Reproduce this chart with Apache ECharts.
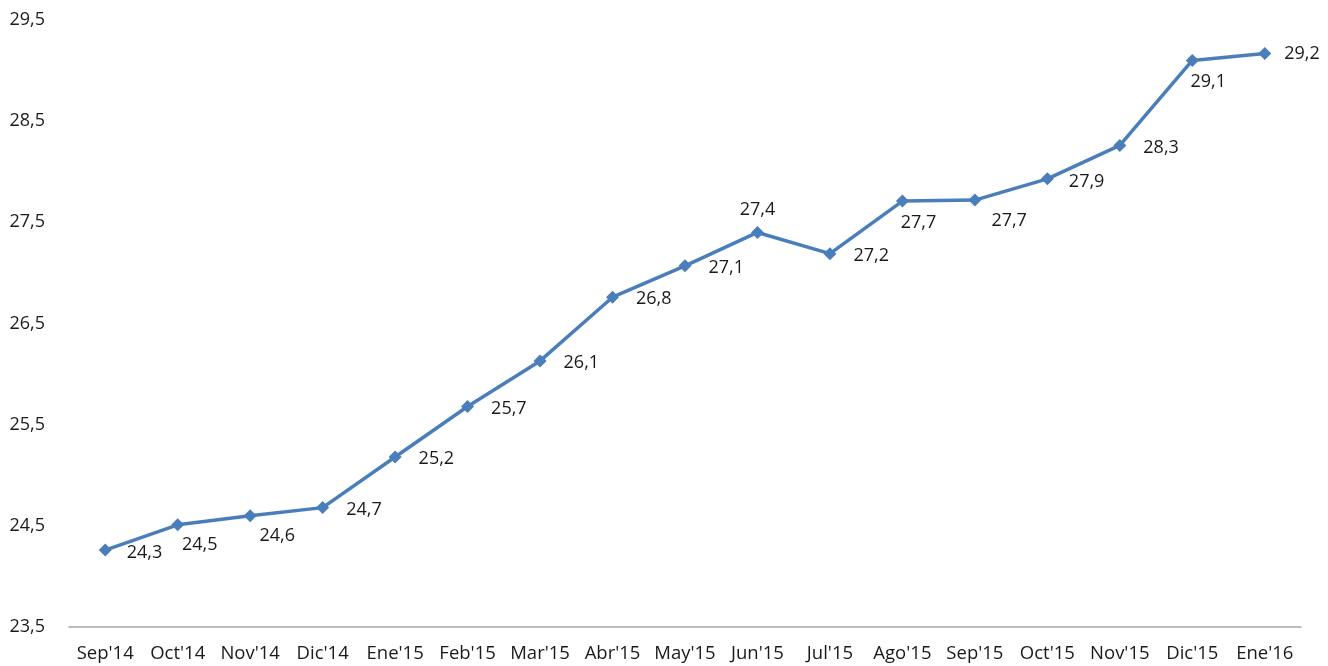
<!DOCTYPE html>
<html><head><meta charset="utf-8">
<script src="https://cdn.jsdelivr.net/npm/echarts@6/dist/echarts.min.js"></script>
<style>html,body{margin:0;padding:0;background:#fff}#c{width:1328px;height:666px}</style>
</head><body><div id="c"></div>
<script>
const categories = ["Sep'14","Oct'14","Nov'14","Dic'14","Ene'15","Feb'15","Mar'15","Abr'15","May'15","Jun'15","Jul'15","Ago'15","Sep'15","Oct'15","Nov'15","Dic'15","Ene'16"];
const values = [24.26,24.51,24.60,24.68,25.18,25.68,26.13,26.76,27.07,27.40,27.19,27.71,27.72,27.93,28.26,29.10,29.17];
const yTicks = [23.5,24.5,25.5,26.5,27.5,28.5,29.5];

// label placement per point (index -> [position, offsetX, offsetY])
const labelPlace = {
  0:['right',10,3], 1:['bottom',22,0], 2:['bottom',27,0], 3:['right',12,2],
  4:['right',12,2], 5:['right',12,2], 6:['right',12,2], 7:['right',12,2],
  8:['right',12,2], 9:['top',0,-2], 10:['right',12,2], 11:['bottom',16,1],
  12:['right',5,21], 13:['right',10,3], 14:['right',12,2], 15:['bottom',16,1], 16:['right',8,0]
};

const data = values.map((v,i)=>{
  const p = labelPlace[i] || ['right',10,0];
  return {value:v, label:{position:p[0], offset:[p[1],p[2]]}};
});

const chart = echarts.init(document.getElementById('c'));
chart.setOption({
  animation:false,
  textStyle:{fontFamily:'Open Sans'},
  grid:{left:69,right:27,top:20,bottom:39,containLabel:false},
  xAxis:{type:'category',data:categories,boundaryGap:true,
    axisLine:{lineStyle:{color:'#a6a6a6',width:1.5}},axisTick:{show:false},
    axisLabel:{color:'#1a1a1a',fontSize:18.5,margin:17,interval:0}},
  yAxis:{type:'value',min:yTicks[0],max:yTicks[yTicks.length-1],interval:1,
    splitLine:{show:false},axisLine:{show:false},axisTick:{show:false},
    axisLabel:{color:'#1a1a1a',fontSize:18,margin:24,formatter:v=>v.toFixed(1).replace('.',',')}},
  series:[{type:'line',data:data,symbol:'diamond',symbolSize:13,
    lineStyle:{color:'#4a7ebb',width:3.5},itemStyle:{color:'#4a7ebb'},
    label:{show:true,color:'#1a1a1a',fontSize:18,
      formatter:p=>p.value.toFixed(1).replace('.',',')}}]
});
</script></body></html>
